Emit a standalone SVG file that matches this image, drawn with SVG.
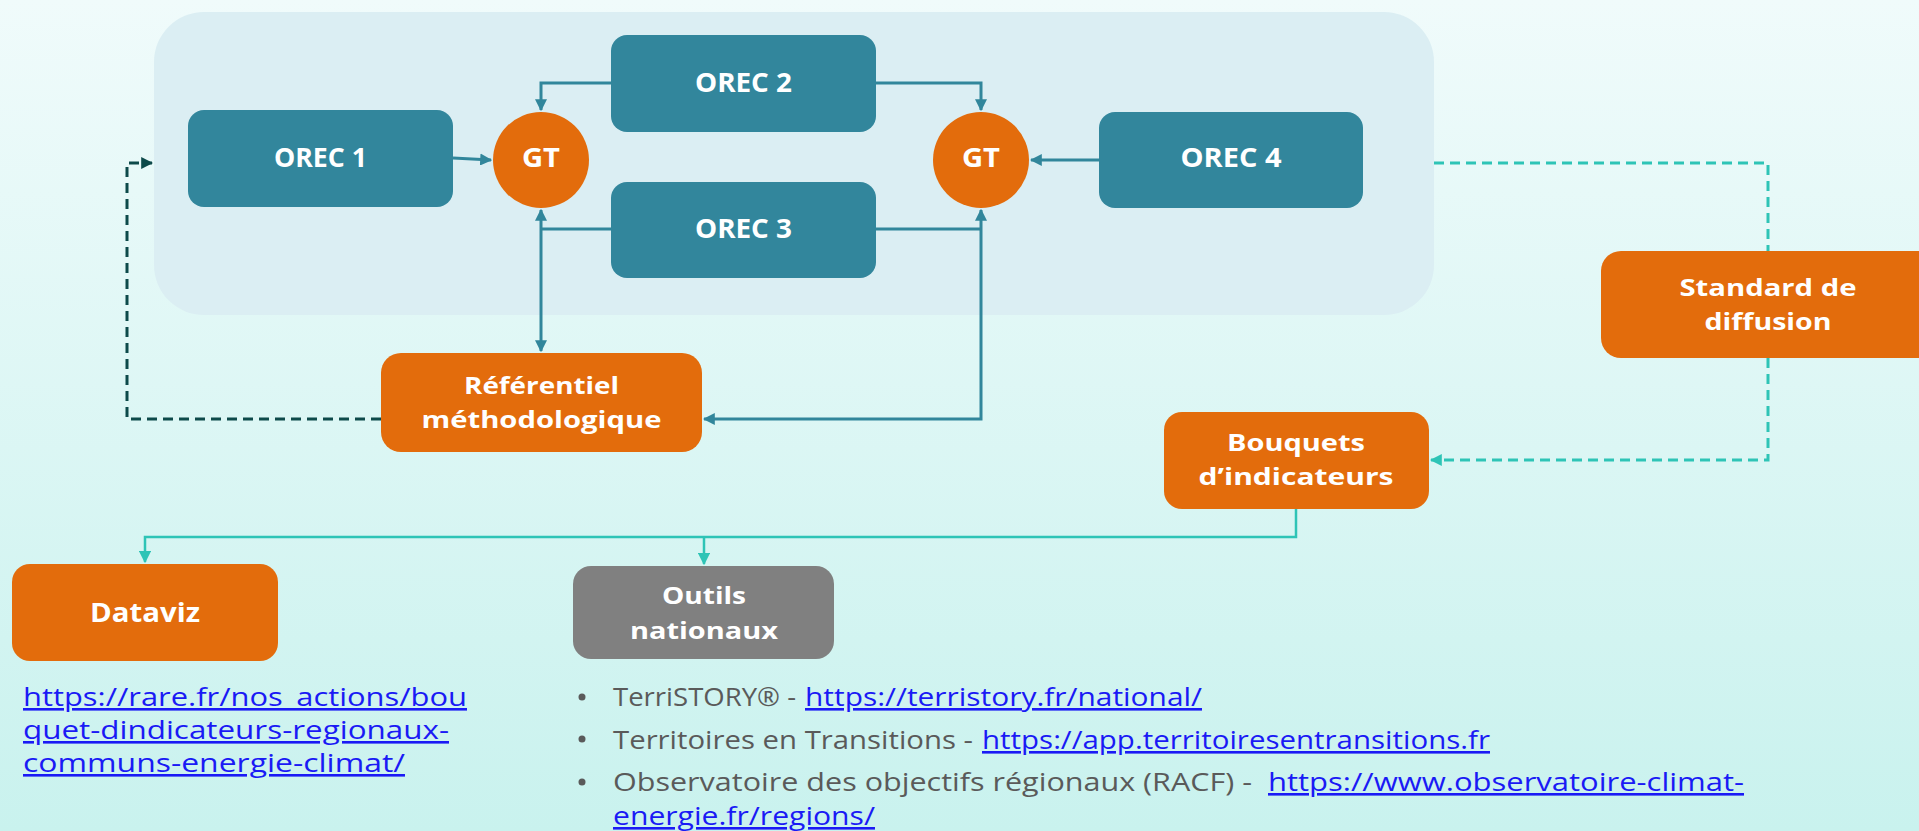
<svg xmlns="http://www.w3.org/2000/svg" width="1919" height="831" viewBox="0 0 1919 831">
<style>
.lbl{font-family:"Open Sans","Liberation Sans",sans-serif;font-weight:700;font-size:27px;fill:#ffffff;text-anchor:middle}
.lbl2{font-family:"Open Sans","Liberation Sans",sans-serif;font-weight:700;font-size:24px;fill:#ffffff;text-anchor:middle}
.body{font-family:"Open Sans","Liberation Sans",sans-serif;font-weight:400;font-size:26px;fill:#5a5a5a}
.link{font-family:"Open Sans","Liberation Sans",sans-serif;font-weight:400;font-size:26px;fill:#1a1af5;text-decoration:underline}
.teal{fill:#32869c}
.orange{fill:#e36c0c}
.gray{fill:#808080}
.c{fill:none;stroke:#31869b;stroke-width:3}
.t{fill:none;stroke:#2ec4b6;stroke-width:2.5}
.dd{fill:none;stroke:#0d4a4a;stroke-width:3;stroke-dasharray:10 6}
.td{fill:none;stroke:#2ec4b6;stroke-width:3;stroke-dasharray:10 6}
</style>
<defs>
<linearGradient id="bg" x1="0" y1="0" x2="0" y2="1">
<stop offset="0" stop-color="#f0fbfb"/>
<stop offset="1" stop-color="#c9f2ee"/>
</linearGradient>
<marker id="aC" viewBox="0 0 10 10" refX="9" refY="5" markerWidth="4" markerHeight="4" orient="auto-start-reverse"><path d="M0,0 L10,5 L0,10 z" fill="#31869b"/></marker>
<marker id="aT" viewBox="0 0 10 10" refX="9" refY="5" markerWidth="5" markerHeight="5" orient="auto"><path d="M0,0 L10,5 L0,10 z" fill="#2ec4b6"/></marker>
<marker id="aTD" viewBox="0 0 10 10" refX="9" refY="5" markerWidth="4" markerHeight="4" orient="auto"><path d="M0,0 L10,5 L0,10 z" fill="#2ec4b6"/></marker>
<marker id="aD" viewBox="0 0 10 10" refX="9" refY="5" markerWidth="4" markerHeight="4" orient="auto"><path d="M0,0 L10,5 L0,10 z" fill="#0d4a4a"/></marker>
</defs>
<rect x="0" y="0" width="1919" height="831" fill="url(#bg)"/>
<rect id="container" x="154" y="12" width="1280" height="303" rx="50" fill="#dbeef3"/>

<g id="connectors">
<path class="c" d="M453,158 L491,160" marker-end="url(#aC)"/>
<path class="c" d="M611,83 L541,83 L541,110" marker-end="url(#aC)"/>
<path class="c" d="M611,229 L541,229"/>
<path class="c" d="M541,210 L541,351" marker-start="url(#aC)" marker-end="url(#aC)"/>
<path class="c" d="M876,83 L981,83 L981,110" marker-end="url(#aC)"/>
<path class="c" d="M876,229 L981,229"/>
<path class="c" d="M981,210 L981,419 L704,419" marker-start="url(#aC)" marker-end="url(#aC)"/>
<path class="c" d="M1099,160 L1031,160" marker-end="url(#aC)"/>
<path class="dd" d="M381,419 L127,419 L127,163 L152,163" marker-end="url(#aD)"/>
<path class="td" d="M1434,163 L1768,163 L1768,251"/>
<path class="td" d="M1768,358 L1768,460 L1431,460" marker-end="url(#aTD)"/>
<path class="t" d="M1296,509 L1296,537 L145,537 L145,562" marker-end="url(#aT)"/>
<path class="t" d="M704,537 L704,564" marker-end="url(#aT)"/>
</g>

<g id="orec1"><rect class="teal" x="188" y="110" width="265" height="97" rx="16"/><text class="lbl" x="320.5" y="167" textLength="93" lengthAdjust="spacingAndGlyphs">OREC 1</text></g>
<g id="orec2"><rect class="teal" x="611" y="35" width="265" height="97" rx="16"/><text class="lbl" x="743.5" y="92" textLength="97" lengthAdjust="spacingAndGlyphs">OREC 2</text></g>
<g id="orec3"><rect class="teal" x="611" y="182" width="265" height="96" rx="16"/><text class="lbl" x="743.5" y="238" textLength="97" lengthAdjust="spacingAndGlyphs">OREC 3</text></g>
<g id="orec4"><rect class="teal" x="1099" y="112" width="264" height="96" rx="16"/><text class="lbl" x="1231" y="167" textLength="101" lengthAdjust="spacingAndGlyphs">OREC 4</text></g>
<g id="gt1"><ellipse class="orange" cx="541" cy="160" rx="48" ry="48"/><text class="lbl" x="541" y="167" textLength="38" lengthAdjust="spacingAndGlyphs">GT</text></g>
<g id="gt2"><ellipse class="orange" cx="981" cy="160" rx="48" ry="48"/><text class="lbl" x="981" y="167" textLength="38" lengthAdjust="spacingAndGlyphs">GT</text></g>

<g id="referentiel"><rect class="orange" x="381" y="353" width="321" height="99" rx="20"/>
<text class="lbl2" x="541.5" y="394" textLength="155" lengthAdjust="spacingAndGlyphs">Référentiel</text>
<text class="lbl2" x="541.5" y="428" textLength="240" lengthAdjust="spacingAndGlyphs">méthodologique</text></g>

<g id="standard"><rect class="orange" x="1601" y="251" width="340" height="107" rx="20"/>
<text class="lbl2" x="1768" y="296" textLength="177" lengthAdjust="spacingAndGlyphs">Standard de</text>
<text class="lbl2" x="1768" y="330" textLength="127" lengthAdjust="spacingAndGlyphs">diffusion</text></g>

<g id="bouquets"><rect class="orange" x="1164" y="412" width="265" height="97" rx="18"/>
<text class="lbl2" x="1296" y="451" textLength="138" lengthAdjust="spacingAndGlyphs">Bouquets</text>
<text class="lbl2" x="1296" y="485" textLength="195" lengthAdjust="spacingAndGlyphs">d’indicateurs</text></g>

<g id="dataviz"><rect class="orange" x="12" y="564" width="266" height="97" rx="18"/>
<text class="lbl" x="145" y="622" textLength="110" lengthAdjust="spacingAndGlyphs">Dataviz</text></g>

<g id="outils"><rect class="gray" x="573" y="566" width="261" height="93" rx="18"/>
<text class="lbl2" x="704" y="604" textLength="84" lengthAdjust="spacingAndGlyphs">Outils</text>
<text class="lbl2" x="704" y="639" textLength="148" lengthAdjust="spacingAndGlyphs">nationaux</text></g>

<g id="dataviz-link">
<text class="link" x="23" y="706" textLength="444" lengthAdjust="spacingAndGlyphs">https://rare.fr/nos_actions/bou</text>
<text class="link" x="23" y="739" textLength="426" lengthAdjust="spacingAndGlyphs">quet-dindicateurs-regionaux-</text>
<text class="link" x="23" y="772" textLength="382" lengthAdjust="spacingAndGlyphs">communs-energie-climat/</text>
</g>

<g id="outils-list">
<circle cx="582" cy="697" r="3.5" fill="#5a5a5a"/>
<text class="body" x="613" y="706" textLength="183" lengthAdjust="spacingAndGlyphs">TerriSTORY® -</text>
<text class="link" x="805" y="706" textLength="397" lengthAdjust="spacingAndGlyphs">https://terristory.fr/national/</text>
<circle cx="582" cy="739" r="3.5" fill="#5a5a5a"/>
<text class="body" x="613" y="749" textLength="360" lengthAdjust="spacingAndGlyphs">Territoires en Transitions -</text>
<text class="link" x="982" y="749" textLength="508" lengthAdjust="spacingAndGlyphs">https://app.territoiresentransitions.fr</text>
<circle cx="582" cy="782" r="3.5" fill="#5a5a5a"/>
<text class="body" x="613" y="791" textLength="639" lengthAdjust="spacingAndGlyphs">Observatoire des objectifs régionaux (RACF) -</text>
<text class="link" x="1268" y="791" textLength="476" lengthAdjust="spacingAndGlyphs">https://www.observatoire-climat-</text>
<text class="link" x="613" y="825" textLength="262" lengthAdjust="spacingAndGlyphs">energie.fr/regions/</text>
</g>
</svg>
